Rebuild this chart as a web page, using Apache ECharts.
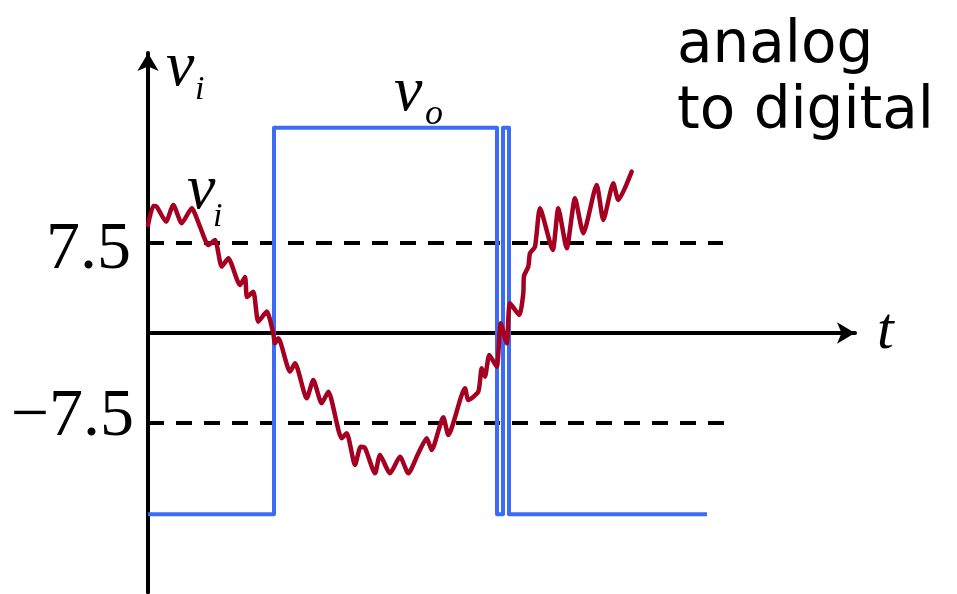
<!DOCTYPE html>
<html>
<head>
<meta charset="utf-8">
<script src="https://cdn.jsdelivr.net/npm/echarts@6/dist/echarts.min.js"></script>
<style>
  html, body { margin: 0; padding: 0; background: #fff; }
  #main { width: 957px; height: 594px; }
</style>
</head>
<body>
<div id="main"></div>
<script>
// input signal v_i (noisy)
var viT = [0, 0.53, 0.87, 1.8, 2.53, 3.37, 4.37, 5.2, 6.03, 6.7, 7.37, 8.03, 9.2, 9.7, 9.9, 10.53,
  11.03, 11.87, 12.53, 12.7, 13.03, 14.2, 14.7, 15.87, 16.53, 17.37, 18.03, 19.37, 19.87, 20.7,
  21.27, 21.7, 22.7, 23.2, 24.2, 25.2, 26.03, 27.03, 27.87, 28.37, 29.53, 30.03, 31.7, 32.03,
  33.03, 33.37, 33.7, 34.13, 34.87, 35.27, 35.87, 36.2, 37.13, 37.53, 37.6, 38.03, 38.2, 38.7,
  39.2, 40.47, 41.03, 41.87, 42.7, 43.53, 44.87, 45.53, 46.53, 47.03, 48.37];
var viV = [9.0, 10.58, 10.53, 9.28, 10.67, 9.14, 10.39, 8.86, 7.33, 7.75, 5.53, 6.22, 4.0, 4.67, 3.0, 3.44,
  0.94, 1.78, -0.03, -0.86, -0.44, -3.22, -2.53, -5.44, -3.92, -5.86, -4.89, -8.78, -8.36, -11.0,
  -9.47, -9.58, -11.69, -10.17, -11.69, -10.31, -11.69, -10.03, -8.78, -9.75, -7.03, -8.5, -4.61, -5.58,
  -4.89, -2.94, -3.64, -1.83, -2.81, 0.81, -0.86, 2.48, 1.5, 3.31, 4.75, 5.53, 6.64, 7.19,
  10.39, 6.92, 10.39, 7.06, 11.22, 8.31, 12.33, 9.42, 12.47, 11.08, 13.44];

// comparator output v_o
var voT = [0, 12.6, 12.6, 34.9, 34.9, 35.5, 35.5, 36.1, 36.1, 55.9];
var voV = [-15.1, -15.1, 17.1, 17.1, -15.1, -15.1, 17.1, 17.1, -15.1, -15.1];

// threshold lines
var levels = [7.5, -7.5];
var levelEnds = [57.5, 57.9];
var levelLabels = ['7.5', '\u22127.5'];

function pairs(xs, ys) {
  return xs.map(function (x, i) { return [x, ys[i]]; });
}

var serif = '"Liberation Serif", "Times New Roman", serif';
var black = '#000';

var dashSeries = levels.map(function (lv, i) {
  return {
    type: 'line',
    symbol: 'none',
    silent: true,
    data: [[0, lv], [levelEnds[i], lv]],
    lineStyle: { color: black, width: 4, type: [16, 12] },
    z: 1
  };
});

var axisLine = { onZero: true, symbol: ['none', 'arrow'], symbolSize: [16, 18], lineStyle: { color: black, width: 4 } };

var myChart = echarts.init(document.getElementById('main'));
myChart.setOption({
  animation: false,
  backgroundColor: '#fff',
  grid: { left: 148, right: 102, top: 53, bottom: 1.8, outerBoundsMode: 'none' },
  xAxis: {
    type: 'value',
    min: 0,
    max: 70.7,
    axisLine: axisLine,
    axisTick: { show: false },
    axisLabel: { show: false },
    splitLine: { show: false }
  },
  yAxis: {
    type: 'value',
    min: -21.6,
    max: 23.33,
    axisLine: axisLine,
    axisTick: { show: false },
    axisLabel: { show: false },
    splitLine: { show: false }
  },
  series: dashSeries.concat([
    {
      name: 'vo',
      type: 'line',
      symbol: 'none',
      data: pairs(voT, voV),
      lineStyle: { color: '#3c6cf7', width: 4, join: 'round' },
      z: 3
    },
    {
      name: 'vi',
      type: 'line',
      symbol: 'none',
      smooth: 0.2,
      data: pairs(viT, viV),
      lineStyle: { color: '#a50021', width: 4.5, join: 'round', cap: 'round' },
      z: 4
    }
  ]),
  graphic: [
    // level labels
    { type: 'text', x: 131, y: 250, style: { text: levelLabels[0], font: '68px ' + serif, fill: black, textAlign: 'right', textVerticalAlign: 'middle' } },
    { type: 'text', x: 134, y: 417, style: { text: levelLabels[1], font: '68px ' + serif, fill: black, textAlign: 'right', textVerticalAlign: 'middle' } },
    // axis name v_i
    { type: 'text', x: 166, y: 68, style: { text: 'v', font: 'italic 64px ' + serif, fill: black, textAlign: 'left', textVerticalAlign: 'middle' } },
    { type: 'text', x: 195, y: 90, style: { text: 'i', font: 'italic 34px ' + serif, fill: black, textAlign: 'left', textVerticalAlign: 'middle' } },
    // curve label v_i
    { type: 'text', x: 187, y: 191, style: { text: 'v', font: 'italic 64px ' + serif, fill: black, textAlign: 'left', textVerticalAlign: 'middle' } },
    { type: 'text', x: 213, y: 217, style: { text: 'i', font: 'italic 34px ' + serif, fill: black, textAlign: 'left', textVerticalAlign: 'middle' } },
    // curve label v_o
    { type: 'text', x: 394, y: 93, style: { text: 'v', font: 'italic 64px ' + serif, fill: black, textAlign: 'left', textVerticalAlign: 'middle' } },
    { type: 'text', x: 425, y: 115, style: { text: 'o', font: 'italic 36px ' + serif, fill: black, textAlign: 'left', textVerticalAlign: 'middle' } },
    // time axis name
    { type: 'text', x: 877, y: 332, style: { text: 't', font: 'italic 60px ' + serif, fill: black, textAlign: 'left', textVerticalAlign: 'middle' } },
    // title
    { type: 'text', x: 677, y: 14, style: { text: 'analog\nto digital', font: '58px "Comic Sans MS", "DejaVu Sans", sans-serif', lineHeight: 66, fill: black, textAlign: 'left', textVerticalAlign: 'top' } }
  ]
});
</script>
</body>
</html>
